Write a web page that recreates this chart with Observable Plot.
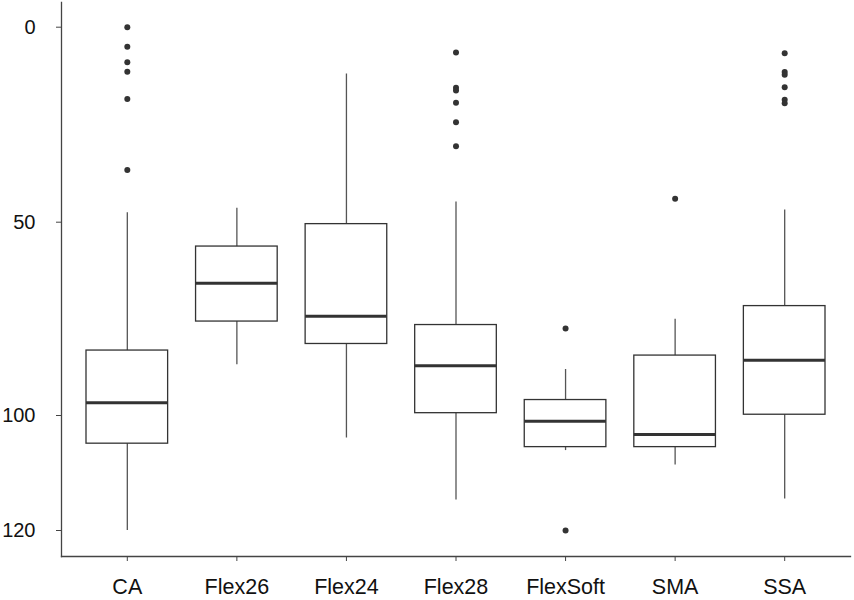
<!DOCTYPE html>
<html><head><meta charset="utf-8">
<script src="https://cdn.jsdelivr.net/npm/d3@7"></script>
<script src="https://cdn.jsdelivr.net/npm/@observablehq/plot@0.6"></script>
<style>body{margin:0;background:#fff}</style>
</head><body><div id="chart"></div>
<script>
const categories = ["CA", "Flex26", "Flex24", "Flex28", "FlexSoft", "SMA", "SSA"];
const whiskerLow = [47.6, 46.4, 12.0, 44.8, 88.1, 75.1, 46.9];
const q1 = [83.2, 56.3, 50.5, 76.6, 96.0, 84.5, 71.7];
const median = [96.7, 65.8, 74.3, 87.1, 101.0, 103.3, 85.7];
const q3 = [104.9, 75.7, 81.5, 99.4, 105.5, 105.5, 99.8];
const whiskerHigh = [120, 86.9, 103.9, 114.7, 106.1, 108.6, 114.5];
const outlierValues = [
  [0, 5, 9, 11.4, 18.4, 36.6],
  [],
  [],
  [6.5, 15.5, 16.2, 19.4, 24.4, 30.5],
  [77.5, 120],
  [44],
  [6.7, 11.5, 12.2, 15.4, 18.6, 19.5]
];
const yTicks = [0, 50, 100, 120];

const boxes = categories.map((c, i) => ({cat: c, lo: whiskerLow[i], q1: q1[i], med: median[i], q3: q3[i], hi: whiskerHigh[i]}));
const outliers = categories.flatMap((c, i) => outlierValues[i].map(v => ({cat: c, v})));

const chart = Plot.plot({
  width: 854, height: 600,
  marginTop: 2, marginBottom: 44, marginLeft: 61, marginRight: 4,
  style: {fontFamily: "'Liberation Sans', Arial, sans-serif", background: "#fff", color: "#111"},
  x: {domain: categories, insetLeft: 25, insetRight: 25, paddingInner: 0.255, paddingOuter: 0, round: false},
  y: {type: "linear", domain: yTicks, range: [26.7, 221.7, 415, 530]},
  marks: [
    Plot.frame({anchor: "left", stroke: "#444", strokeWidth: 1.3}),
    Plot.frame({anchor: "bottom", stroke: "#444", strokeWidth: 1.3}),
    Plot.axisY({ticks: yTicks, tickSize: 5, tickPadding: 21, fontSize: 20, label: null, stroke: "#444", fill: "#111"}),
    Plot.axisX({tickSize: 5, tickPadding: 17, fontSize: 21.5, label: null, stroke: "#444", fill: "#111"}),
    Plot.ruleX(boxes, {x: "cat", y1: "lo", y2: "hi", stroke: "#555", strokeWidth: 1.3}),
    Plot.barY(boxes, {x: "cat", y1: "q1", y2: "q3", fill: "white", stroke: "#333", strokeWidth: 1.3}),
    Plot.tickY(boxes, {x: "cat", y: "med", stroke: "#333", strokeWidth: 3}),
    Plot.dot(outliers, {x: "cat", y: "v", r: 3, fill: "#333", stroke: "none"})
  ]
});
document.getElementById("chart").appendChild(chart);
</script>
</body></html>
